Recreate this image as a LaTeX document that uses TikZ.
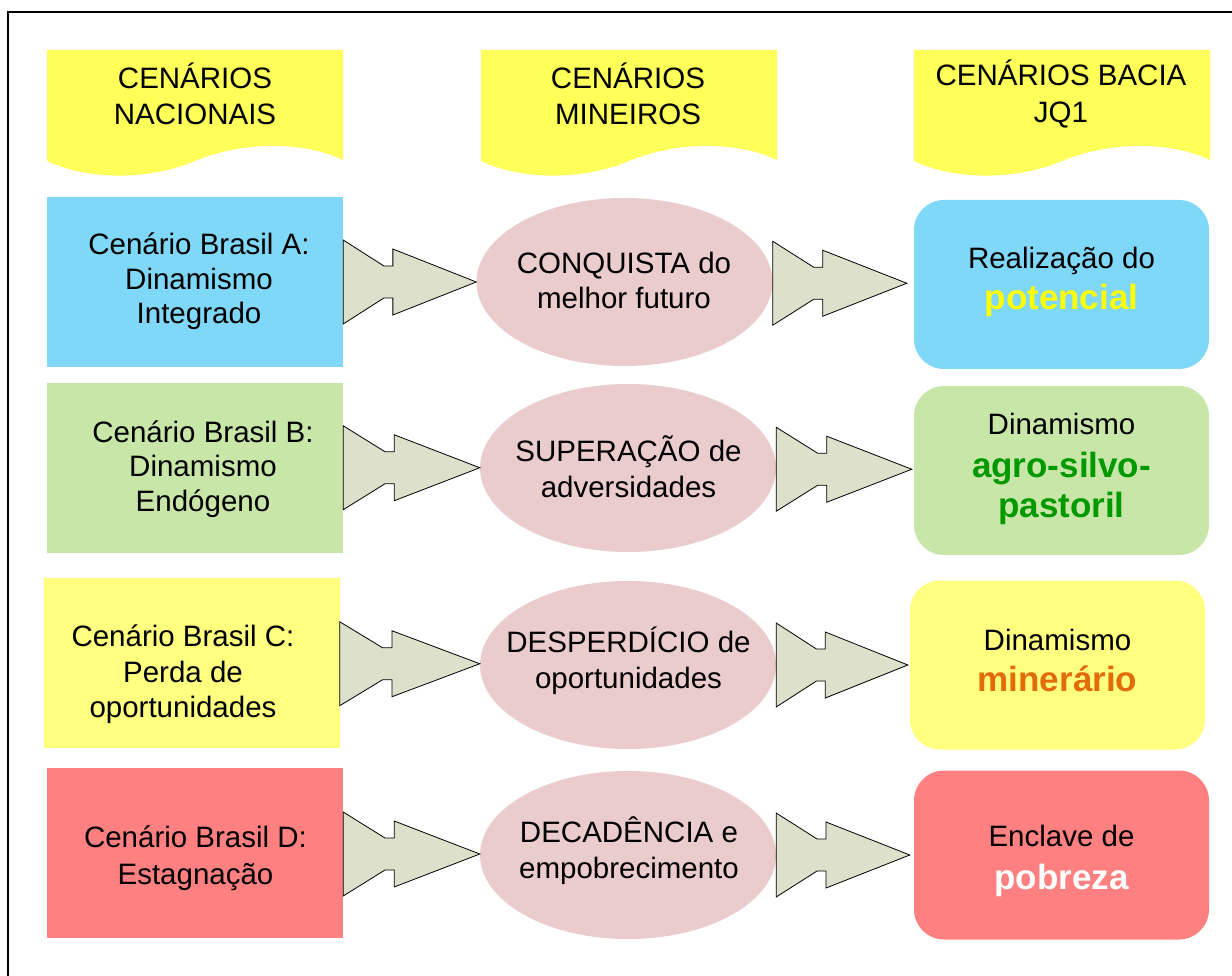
\documentclass[tikz,border=0pt]{standalone}
\usepackage{fontspec}
\setmainfont{Liberation Sans}
\usetikzlibrary{shapes.geometric,calc}
\definecolor{bannerY}{HTML}{FFFF59}
\definecolor{boxBlue}{HTML}{80D8F8}
\definecolor{boxGreen}{HTML}{C8E6A8}
\definecolor{boxYellow}{HTML}{FFFF80}
\definecolor{boxRed}{HTML}{FF8080}
\definecolor{ellPink}{HTML}{EBCCCC}
\definecolor{arrFill}{HTML}{DDE0CB}
\definecolor{txtGreen}{HTML}{009900}
\definecolor{txtOrange}{HTML}{E26B0A}
\definecolor{txtYellow}{HTML}{FFFF00}
\newcommand\regf{\fontsize{29.5}{34.5}\selectfont}
\newcommand\bigbf{\fontsize{35}{39}\selectfont\bfseries}
\newcommand\blockarr[3]{%
  \draw[arrbody] let \p1=(#1), \p2=(#2) in
    (\x1,{(\y1+\y2)/2+42pt})
    -- ({\x1+0.306*(\x2-\x1-#3)},{(\y1+\y2)/2+16pt})
    -- ({\x1+0.373*(\x2-\x1-#3)},{(\y1+\y2)/2+16pt})
    -- ({\x1+0.373*(\x2-\x1-#3)},{(\y1+\y2)/2+33pt})
    -- ({\x2-#3},{(\y1+\y2)/2})
    -- ({\x1+0.373*(\x2-\x1-#3)},{(\y1+\y2)/2-33pt})
    -- ({\x1+0.373*(\x2-\x1-#3)},{(\y1+\y2)/2-16pt})
    -- ({\x1+0.306*(\x2-\x1-#3)},{(\y1+\y2)/2-16pt})
    -- (\x1,{(\y1+\y2)/2-42pt}) -- cycle;}
\tikzset{
  lbox/.style={rectangle, minimum width=296pt, minimum height=170pt, inner sep=0pt},
  rbox/.style={rectangle, rounded corners=30pt, minimum width=295pt, minimum height=169pt, inner sep=0pt},
  ellnode/.style={ellipse, fill=ellPink, minimum width=296pt, minimum height=168pt, inner sep=0pt},
  txt/.style={align=center, font=\regf, inner sep=0pt},
  arrbody/.style={fill=arrFill, draw=black, line width=0.8pt, line join=miter},
  bannerfill/.style={fill=bannerY},
  pics/banner/.style={code={
    \path[bannerfill] (0,0) -- (296,0) -- (296,110)
      .. controls (256,91) and (196,91) .. (148,111)
      .. controls (100,131) and (40,130) .. (0,111) -- cycle;}}
}
\begin{document}
\begin{tikzpicture}[x=1pt,y=-1pt]
\useasboundingbox (0,0) rectangle (1232,976);
\draw[line width=1.8pt] (8,990) -- (8,12) -- (1240,12);
% banners
\pic at (47,50) {banner};
\pic at (481,50) {banner};
\pic at (914,50) {banner};
\node[txt] (b1) at (195,94) {CENÁRIOS\\[2pt]NACIONAIS};
\node[txt] (b2) at (628,94) {CENÁRIOS\\[2pt]MINEIROS};
\node[txt] (b3) at (1061,94) {CENÁRIOS BACIA\\[2pt]JQ1};
% left boxes
\node[lbox, fill=boxBlue] (la) at (195,282) {};
\node[lbox, fill=boxGreen] (lb) at (195,467.5) {};
\node[lbox, fill=boxYellow] (lc) at (191.5,662.5) {};
\node[lbox, fill=boxRed] (ld) at (195,853) {};
\node[txt] (tla) at (199,281.5) {Cenário Brasil A:\\Dinamismo\\Integrado};
\node[txt] (tlb) at (203,469) {Cenário Brasil B:\\Dinamismo\\Endógeno};
\node[txt] (tlc) at (183,674) {Cenário Brasil C:\\[2pt]Perda de\\oportunidades};
\node[txt] (tld) at (195.5,858.5) {Cenário Brasil D:\\[3pt]Estagnação};
% ellipses
\node[ellnode] (m1) at (624.5,282) {};
\node[ellnode] (m2) at (628,468) {};
\node[ellnode] (m3) at (628,665) {};
\node[ellnode] (m4) at (628,855) {};
\node[txt] (tm1) at (624,280.5) {CONQUISTA do\\melhor futuro};
\node[txt] (tm2) at (628.5,466.5) {SUPERAÇÃO de\\[1pt]adversidades};
\node[txt] (tm3) at (628.5,661) {DESPERDÍCIO de\\[2pt]oportunidades};
\node[txt] (tm4) at (629,850.5) {DECADÊNCIA e\\[1pt]empobrecimento};
% right boxes
\node[rbox, fill=boxBlue] (ra) at (1061.5,284.5) {};
\node[rbox, fill=boxGreen] (rb) at (1061.5,470.5) {};
\node[rbox, fill=boxYellow] (rc) at (1057.5,665) {};
\node[rbox, fill=boxRed] (rd) at (1061.5,855) {};
\node[txt] (tra) at (1061.5,282) {Realização do\\[6pt]{\bigbf\color{txtYellow}potencial}};
\node[txt] (trb) at (1061.5,468.5) {Dinamismo\\[9pt]{\bigbf\color{txtGreen}agro-silvo-}\\[5pt]{\bigbf\color{txtGreen}pastoril}};
\node[txt] (trc) at (1057.5,660.5) {Dinamismo\\[7pt]{\bigbf\color{txtOrange}minerário}};
\node[txt] (trd) at (1061.5,861) {Enclave de\\[8pt]{\bigbf\color{white}pobreza}};
% block arrows
\blockarr{la.east}{m1.west}{0pt}
\blockarr{lb.east}{m2.west}{0pt}
\blockarr{lc.east}{m3.west}{0pt}
\blockarr{ld.east}{m4.west}{0pt}
\blockarr{m1.east}{ra.west}{7pt}
\blockarr{m2.east}{rb.west}{2pt}
\blockarr{m3.east}{rc.west}{2pt}
\blockarr{m4.east}{rd.west}{4pt}
\end{tikzpicture}
\end{document}
